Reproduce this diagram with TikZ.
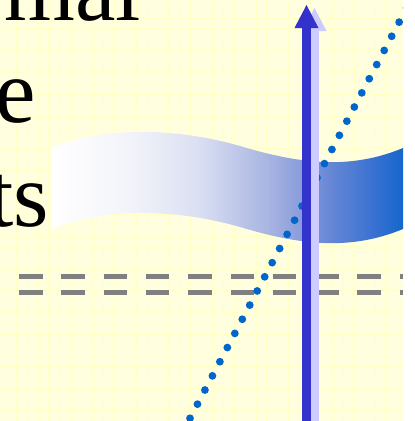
\documentclass[tikz,border=0pt]{standalone}
\usepackage{fontspec}
\setmainfont{Liberation Serif}
\usetikzlibrary{arrows.meta}

\definecolor{paper}{HTML}{FFFFE0}
\definecolor{paperline}{HTML}{FFFFC6}
\definecolor{dotblue}{HTML}{0066CC}
\definecolor{arrowdark}{HTML}{3333CC}
\definecolor{arrowlight}{HTML}{CCCCFF}
\definecolor{dashgray}{HTML}{808080}

% white on the left, blue on the right (25bp..75bp = ribbon width)
\pgfdeclarehorizontalshading{ribbonshade}{100bp}{%
  rgb(0bp)=(1,1,1); rgb(25bp)=(1,1,1);
  rgb(36bp)=(0.953,0.957,0.980);
  rgb(46bp)=(0.855,0.875,0.949);
  rgb(55.7bp)=(0.663,0.710,0.886);
  rgb(60.4bp)=(0.541,0.616,0.859);
  rgb(65bp)=(0.392,0.522,0.835);
  rgb(70bp)=(0.247,0.455,0.824);
  rgb(75bp)=(0.082,0.400,0.800);
  rgb(100bp)=(0.082,0.400,0.800)}

\begin{document}
\begin{tikzpicture}[x=1pt, y=-1pt,
    gridline/.style={paperline, line width=0.8pt},
    textline/.style={anchor=base east, inner sep=0pt, font=\fontsize{91}{100}\selectfont},
    dashrow/.style={dashgray, line width=5pt, dash pattern=on 23.5pt off 18.8pt},
    dotline/.style={dotblue, line width=7.8pt, line cap=round, dash pattern=on 0pt off 16pt},
    arrowbar/.style={line width=9pt, -{Triangle[width=24pt, length=23pt, line width=0pt]}}]
  \useasboundingbox (0,0) rectangle (415,421);
  \fill[white] (0,0) rectangle (415,421);

  \begin{scope}
    \clip (0,0) rectangle (403,421);
    \fill[paper] (0,0) rectangle (403,421);
    \foreach \gx in {5.2,16.1,...,403} {
      \draw[gridline] (\gx,0) -- (\gx,421);
    }
    \foreach \gy in {7,17.9,...,421} {
      \draw[gridline] (0,\gy) -- (403,\gy);
    }

    % text, cut at the left edge
    \node[textline] (line1) at (141,20) {mal};
    \node[textline] (line2) at (36,122) {e};
    \node[textline] (line3) at (49,226) {ts};

    % wavy ribbon
    \shade[shading=ribbonshade]
      (51,148) .. controls (100,128) and (170,126) .. (240,146)
               .. controls (300,164) and (350,170) .. (403,148)
      -- (403,229)
               .. controls (350,251) and (300,245) .. (240,227)
               .. controls (170,207) and (100,209) .. (51,229)
      -- cycle;

    % double dashed line
    \foreach \row in {276.5,292.5} {
      \draw[dashrow] (19,\row) -- (403,\row);
    }

    % dotted slope
    \coordinate (dotstart) at (190,418.3);
    \coordinate (dotend) at (414,-6);
    \draw[dotline] (dotstart) -- (dotend);

    % vertical arrow with its light shadow
    \coordinate (shadowbase) at (314.5,430);
    \coordinate (shadowtip) at (314.5,8);
    \coordinate (axisbase) at (306.5,430);
    \coordinate (axistip) at (306.5,5);
    \draw[arrowbar, arrowlight, fill=arrowlight] (shadowbase) -- (shadowtip);
    \draw[arrowbar, arrowdark, fill=arrowdark] (axisbase) -- (axistip);
  \end{scope}
\end{tikzpicture}
\end{document}
